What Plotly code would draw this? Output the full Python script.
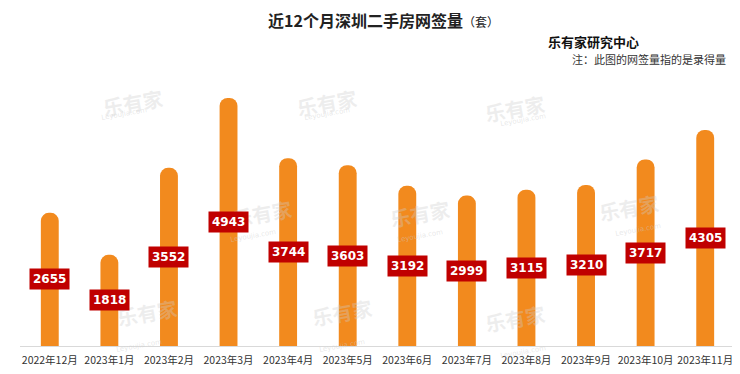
import plotly.graph_objects as go

months = ["2022年12月", "2023年1月", "2023年2月", "2023年3月", "2023年4月", "2023年5月",
          "2023年6月", "2023年7月", "2023年8月", "2023年9月", "2023年10月", "2023年11月"]
values = [2655, 1818, 3552, 4943, 3744, 3603, 3192, 2999, 3115, 3210, 3717, 4305]

# watermark positions in paper coordinates
wm_x = [0.11, 0.43, 0.74, 0.29, 0.56, 0.90, 0.13, 0.45, 0.74]
wm_y = [0.88, 0.88, 0.86, 0.44, 0.44, 0.46, 0.04, 0.04, 0.02]

BAR = "#F28A1E"
FONT = "Noto Sans CJK SC"

fig = go.Figure()
fig.add_trace(go.Bar(x=months, y=values, marker=dict(color=BAR, line=dict(width=0)),
                     hoverinfo="x+y"))

annotations = []
for wx, wy in zip(wm_x, wm_y):
    annotations.append(dict(xref="paper", yref="paper", x=wx, y=wy, showarrow=False,
                            text="<b>乐有家</b>", textangle=-10,
                            font=dict(family=FONT, size=20, color="rgba(205,205,205,0.35)")))
    annotations.append(dict(xref="paper", yref="paper", x=wx, y=wy - 0.075, showarrow=False,
                            text="Leyoujia.com", textangle=-10,
                            font=dict(family="DejaVu Sans", size=7, color="rgba(205,205,205,0.45)")))

for m, v in zip(months, values):
    annotations.append(dict(x=m, y=v / 2, xref="x", yref="y", showarrow=False,
                            text=f"<b>{v}</b>", bgcolor="#C00000", borderpad=3,
                            font=dict(family="DejaVu Sans", size=12, color="white")))

annotations += [
    dict(xref="paper", yref="paper", x=0.508, y=1.0, yshift=25, showarrow=False, yanchor="middle",
         text="<b>近12个月深圳二手房网签量</b><span style='font-size:12px'>（套）</span>",
         font=dict(family=FONT, size=16, color="#222")),
    dict(xref="paper", yref="paper", x=0.868, y=1.0, yshift=4, showarrow=False, yanchor="middle",
         text="<b>乐有家研究中心</b>", font=dict(family=FONT, size=13, color="#111")),
    dict(xref="paper", yref="paper", x=0.99, y=1.0, yshift=-14, showarrow=False, yanchor="middle",
         xanchor="right", text="注：此图的网签量指的是录得量", font=dict(family=FONT, size=11, color="#333")),
]

fig.update_layout(
    width=740, height=374,
    margin=dict(l=12, r=13, t=37, b=36),
    paper_bgcolor="white", plot_bgcolor="white",
    bargap=0.7, barcornerradius=9,
    showlegend=False,
    annotations=annotations,
    xaxis=dict(showline=True, linecolor="#d9d9d9", linewidth=1, ticks="", tickangle=0,
               automargin=False, ticklabelstandoff=4,
               tickfont=dict(family=FONT, size=10.5, color="#333"), fixedrange=True),
    yaxis=dict(range=[0, 6000], visible=False, showgrid=False, fixedrange=True, automargin=False),
)

fig.write_html("out.html")
